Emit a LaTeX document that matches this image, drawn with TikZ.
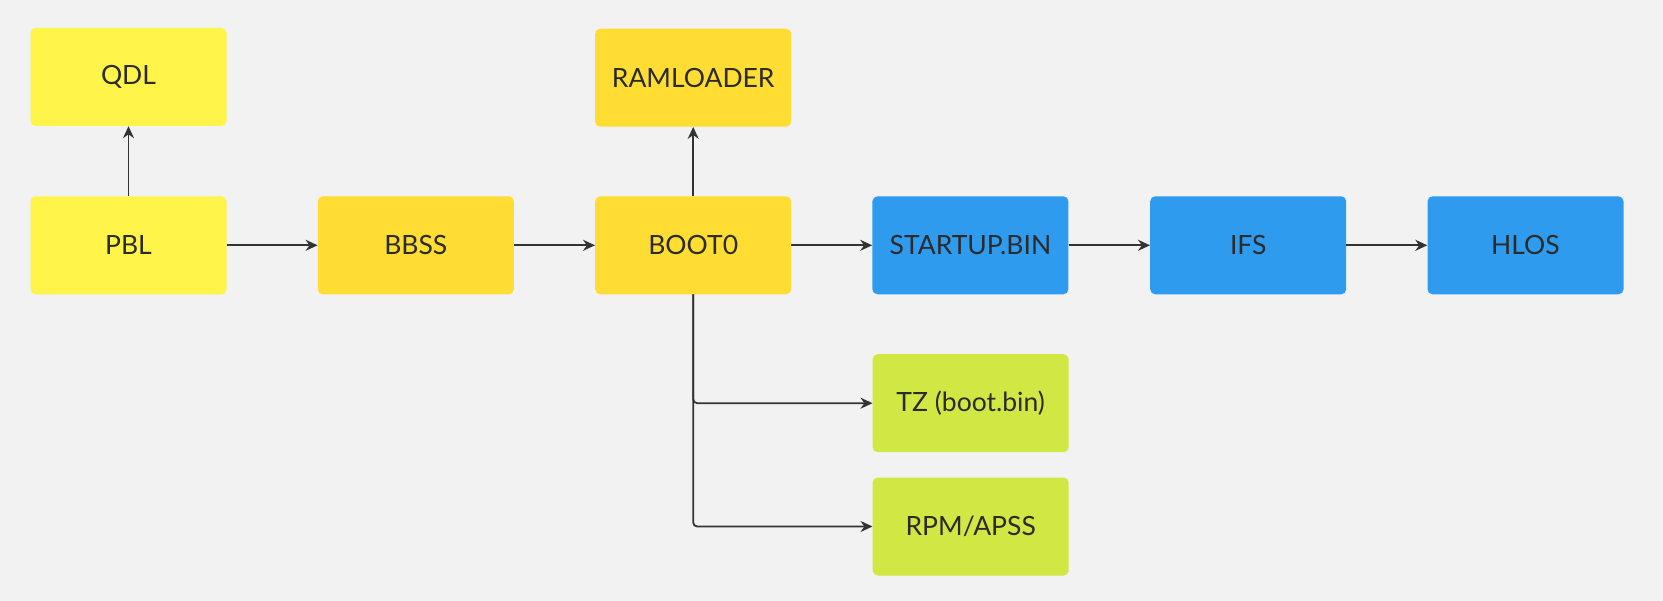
\documentclass[tikz,border=0pt]{standalone}
\usepackage{fontspec}
\setmainfont{Lato}
\usetikzlibrary{arrows.meta}
\definecolor{bg}{HTML}{F2F2F2}
\definecolor{ylight}{HTML}{FFF44A}
\definecolor{ydark}{HTML}{FFDD33}
\definecolor{bblue}{HTML}{2F9BEF}
\definecolor{lgreen}{HTML}{D1E743}
\definecolor{txt}{HTML}{2B2B2B}
\definecolor{ln}{HTML}{333333}
\tikzset{
  box/.style={rectangle, rounded corners=5pt, minimum width=196pt, minimum height=98pt, inner sep=0pt, text=txt, font=\fontsize{26.5}{30}\selectfont},
  conn/.style={draw=ln, line width=1.8pt, -{Stealth[length=12pt,width=11pt]}, rounded corners=4pt}
}
\begin{document}
\begin{tikzpicture}[x=1pt,y=-1pt]
\fill[bg] (0,0) rectangle (1663,601);
\useasboundingbox (0,0) rectangle (1663,601);
\node[box, fill=ylight] (qdl) at (128.5,77) {QDL};
\node[box, fill=ylight] (pbl) at (128.5,245.3) {PBL};
\node[box, fill=ydark] (bbss) at (415.8,245.3) {BBSS};
\node[box, fill=ydark] (ram) at (693.2,77.7) {RAMLOADER};
\node[box, fill=ydark] (boot) at (693.2,245.3) {BOOT0};
\node[box, fill=bblue] (startup) at (970.4,245.3) {STARTUP.BIN};
\node[box, fill=bblue] (ifs) at (1248.2,245.3) {IFS};
\node[box, fill=bblue] (hlos) at (1525.5,245.3) {HLOS};
\node[box, fill=lgreen] (tz) at (970.7,403.2) {TZ (boot.bin)};
\node[box, fill=lgreen] (rpm) at (970.7,526.5) {RPM/APSS};
\draw[conn] (pbl.north) -- (qdl.south);
\draw[conn] (pbl.east) -- (bbss.west);
\draw[conn] (bbss.east) -- (boot.west);
\draw[conn] (boot.north) -- (ram.south);
\draw[conn] (boot.east) -- (startup.west);
\draw[conn] (startup.east) -- (ifs.west);
\draw[conn] (ifs.east) -- (hlos.west);
\draw[conn] (boot.south) |- (tz.west);
\draw[conn] (boot.south) |- (rpm.west);
\end{tikzpicture}
\end{document}
